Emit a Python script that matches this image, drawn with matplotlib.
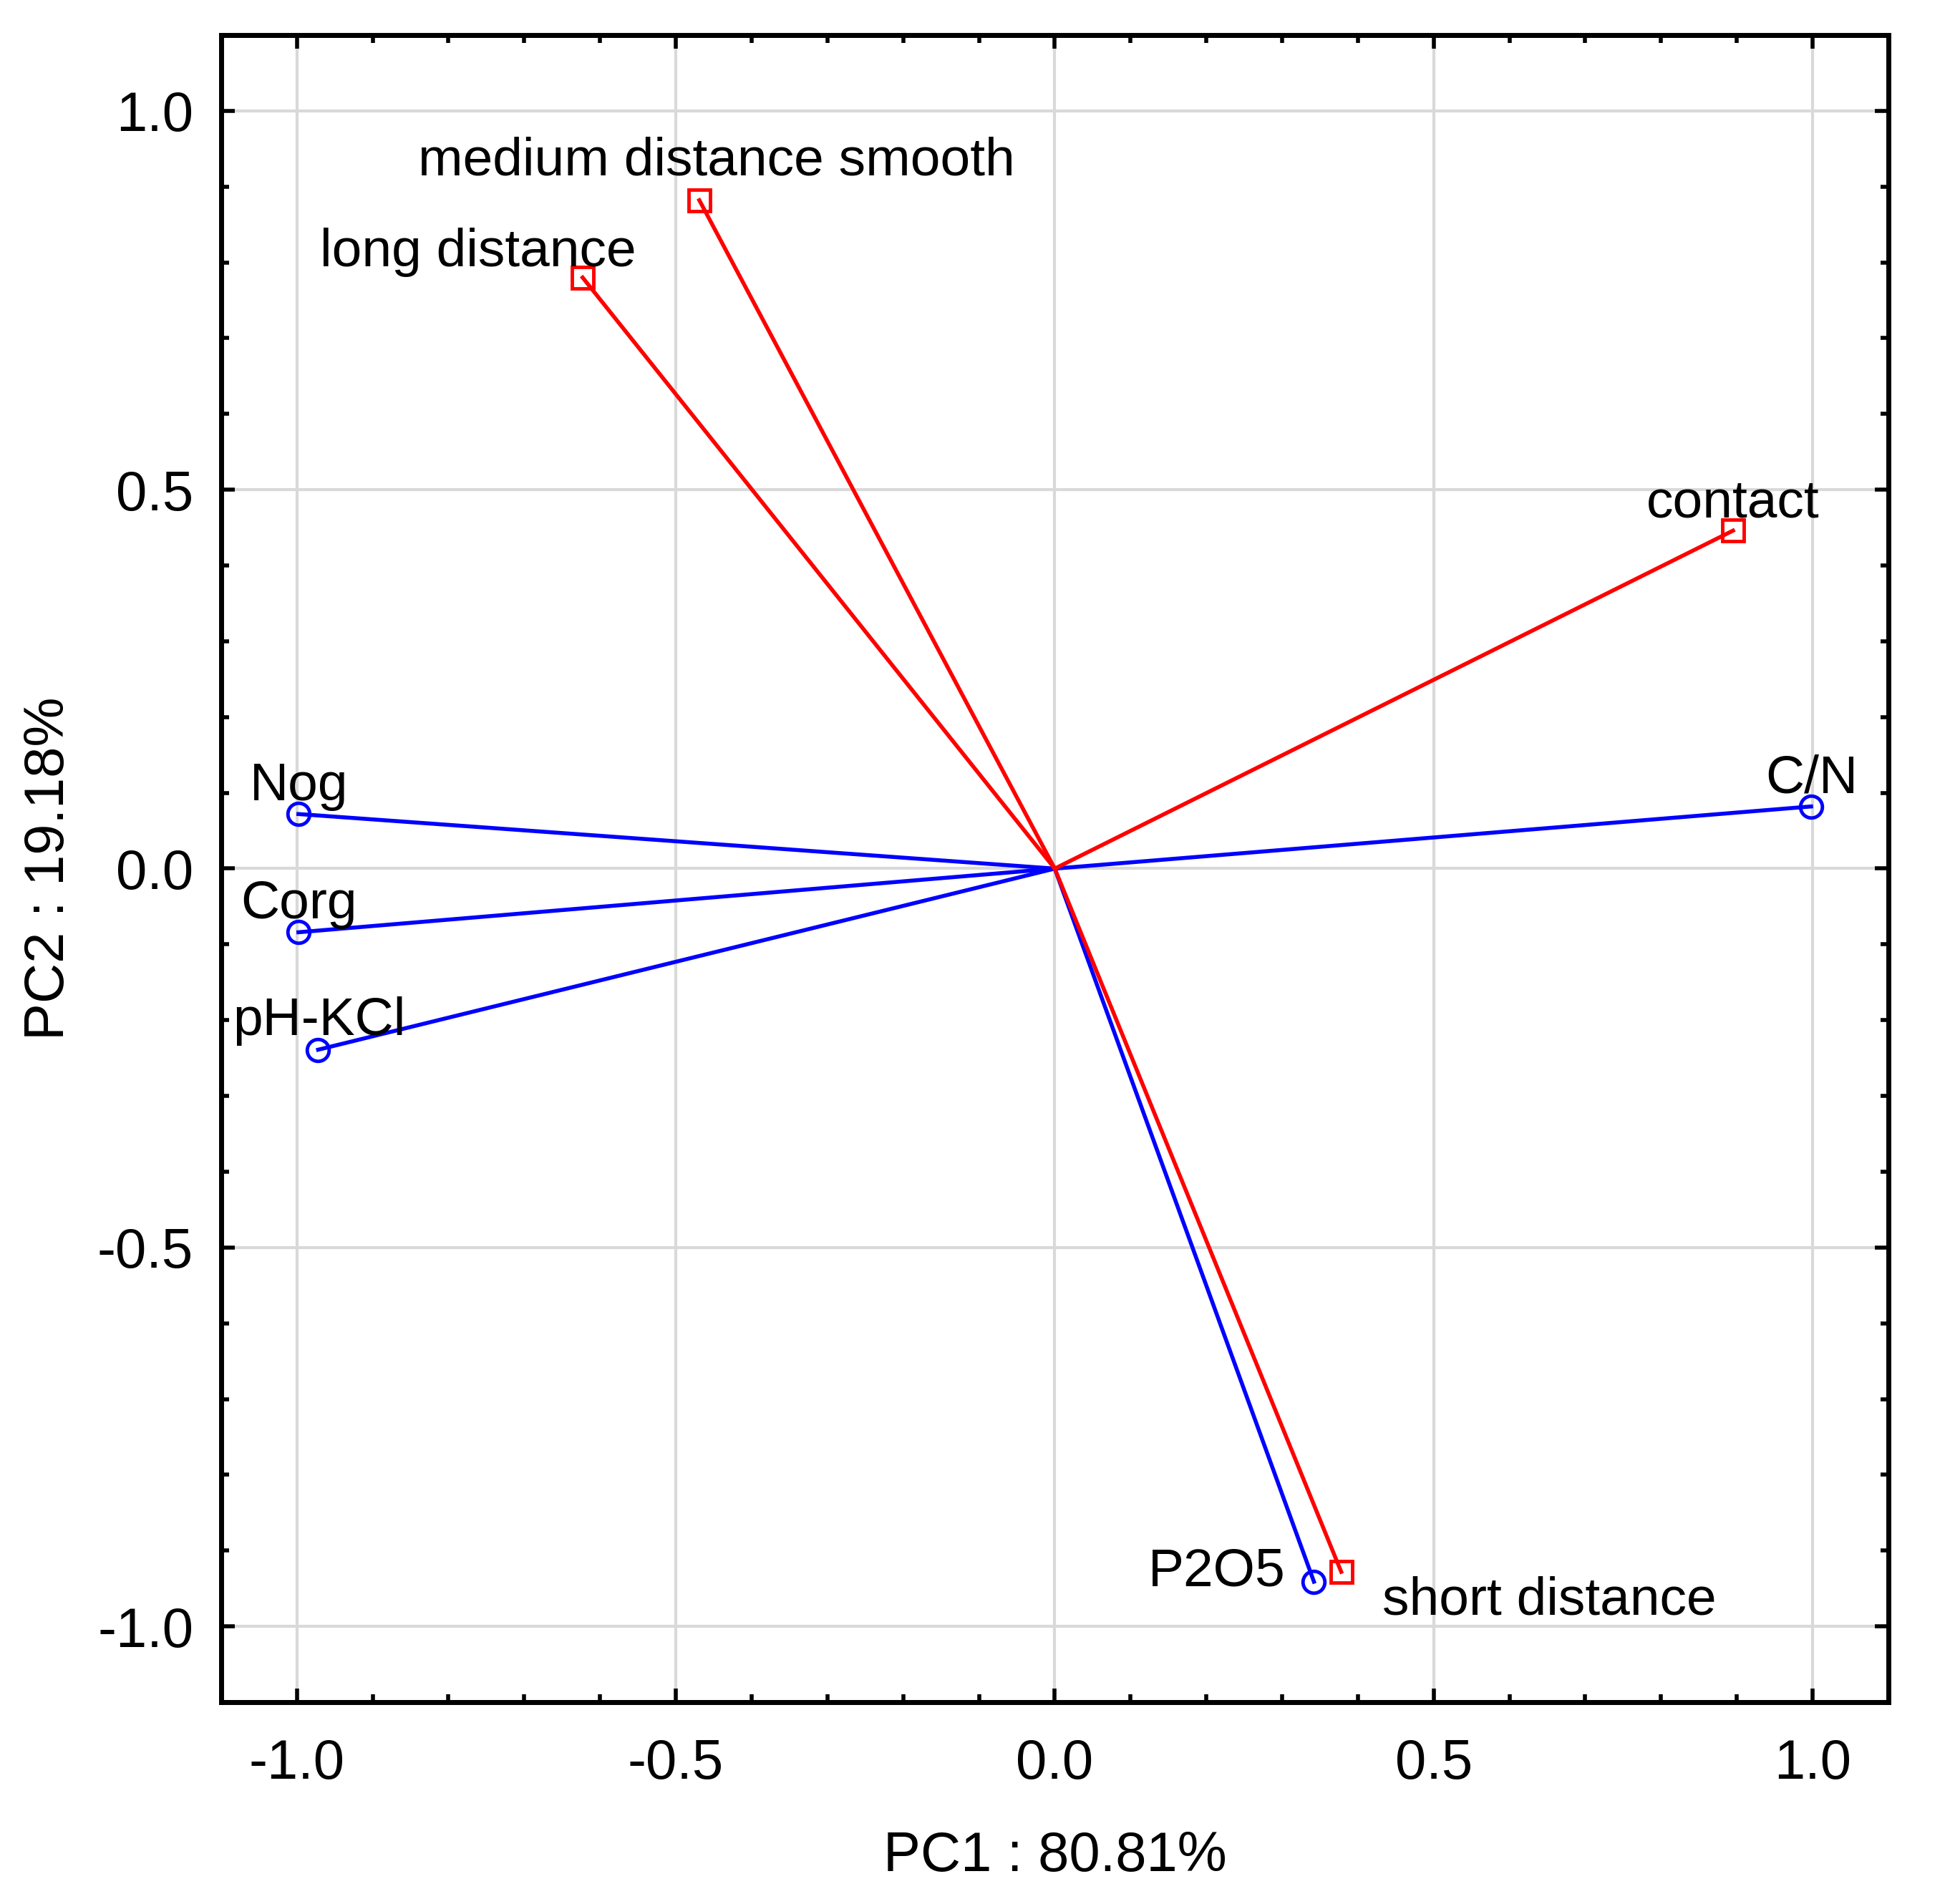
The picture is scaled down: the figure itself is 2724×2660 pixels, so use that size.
import matplotlib
matplotlib.use('Agg')
import matplotlib.pyplot as plt
from matplotlib.ticker import MultipleLocator

plt.rcParams['font.family'] = ['Liberation Sans', 'DejaVu Sans']
plt.rcParams['axes.unicode_minus'] = False

# Loadings of the soil variables (blue) and the root classes (red)
soil_names = ['C/N', 'Nog', 'Corg', 'pH-KCl', 'P2O5']
soil_pc1 = [0.998, -0.998, -0.998, -0.972, 0.342]
soil_pc2 = [0.082, 0.072, -0.084, -0.239, -0.941]

root_names = ['medium distance smooth', 'long distance', 'contact', 'short distance']
root_pc1 = [-0.469, -0.623, 0.895, 0.378]
root_pc2 = [0.882, 0.780, 0.446, -0.928]

# label anchors (left, baseline)
soil_lab_x = [0.9375, -1.0625, -1.074, -1.085, 0.123]
soil_lab_y = [0.100, 0.090, -0.066, -0.220, -0.946]
root_lab_x = [-0.840, -0.970, 0.781, 0.4326]
root_lab_y = [0.915, 0.795, 0.464, -0.984]

fig = plt.figure(figsize=(27.24, 26.60), dpi=100)
ax = fig.add_axes([0.1134, 0.106, 0.855, 0.8756])

ax.grid(True, color='#d9d9d9', linewidth=3, zorder=0)
ax.set_axisbelow(True)

for x, y in zip(soil_pc1, soil_pc2):
    ax.plot([0, x], [0, y], color='blue', linewidth=4, zorder=2)
ax.plot(soil_pc1, soil_pc2, 'o', markersize=22, markerfacecolor='none',
        markeredgecolor='blue', markeredgewidth=3.5, linestyle='none', zorder=3)

for x, y in zip(root_pc1, root_pc2):
    ax.plot([0, x], [0, y], color='red', linewidth=4, zorder=2)
ax.plot(root_pc1, root_pc2, 's', markersize=22, markerfacecolor='none',
        markeredgecolor='red', markeredgewidth=3.5, linestyle='none', zorder=3)

for name, x, y in zip(soil_names, soil_lab_x, soil_lab_y):
    ax.text(x, y, name, fontsize=54, ha='left', va='baseline', zorder=4)
for name, x, y in zip(root_names, root_lab_x, root_lab_y):
    ax.text(x, y, name, fontsize=54, ha='left', va='baseline', zorder=4)

ax.set_xlim(-1.1, 1.1)
ax.set_ylim(-1.1, 1.1)
ax.xaxis.set_major_locator(MultipleLocator(0.5))
ax.yaxis.set_major_locator(MultipleLocator(0.5))
ax.xaxis.set_minor_locator(MultipleLocator(0.1))
ax.yaxis.set_minor_locator(MultipleLocator(0.1))
ax.tick_params(which='both', direction='in', top=True, right=True, width=4)
ax.tick_params(which='major', length=14, labelsize=56)
ax.tick_params(axis='x', which='major', pad=36)
ax.tick_params(axis='y', which='major', pad=28)
ax.tick_params(which='minor', length=8)

for s in ax.spines.values():
    s.set_linewidth(5)

ax.set_xlabel('PC1 : 80.81%', fontsize=56, labelpad=40)
ax.set_ylabel('PC2 : 19.18%', fontsize=56, labelpad=22)

fig.savefig('out.png', dpi=100)
